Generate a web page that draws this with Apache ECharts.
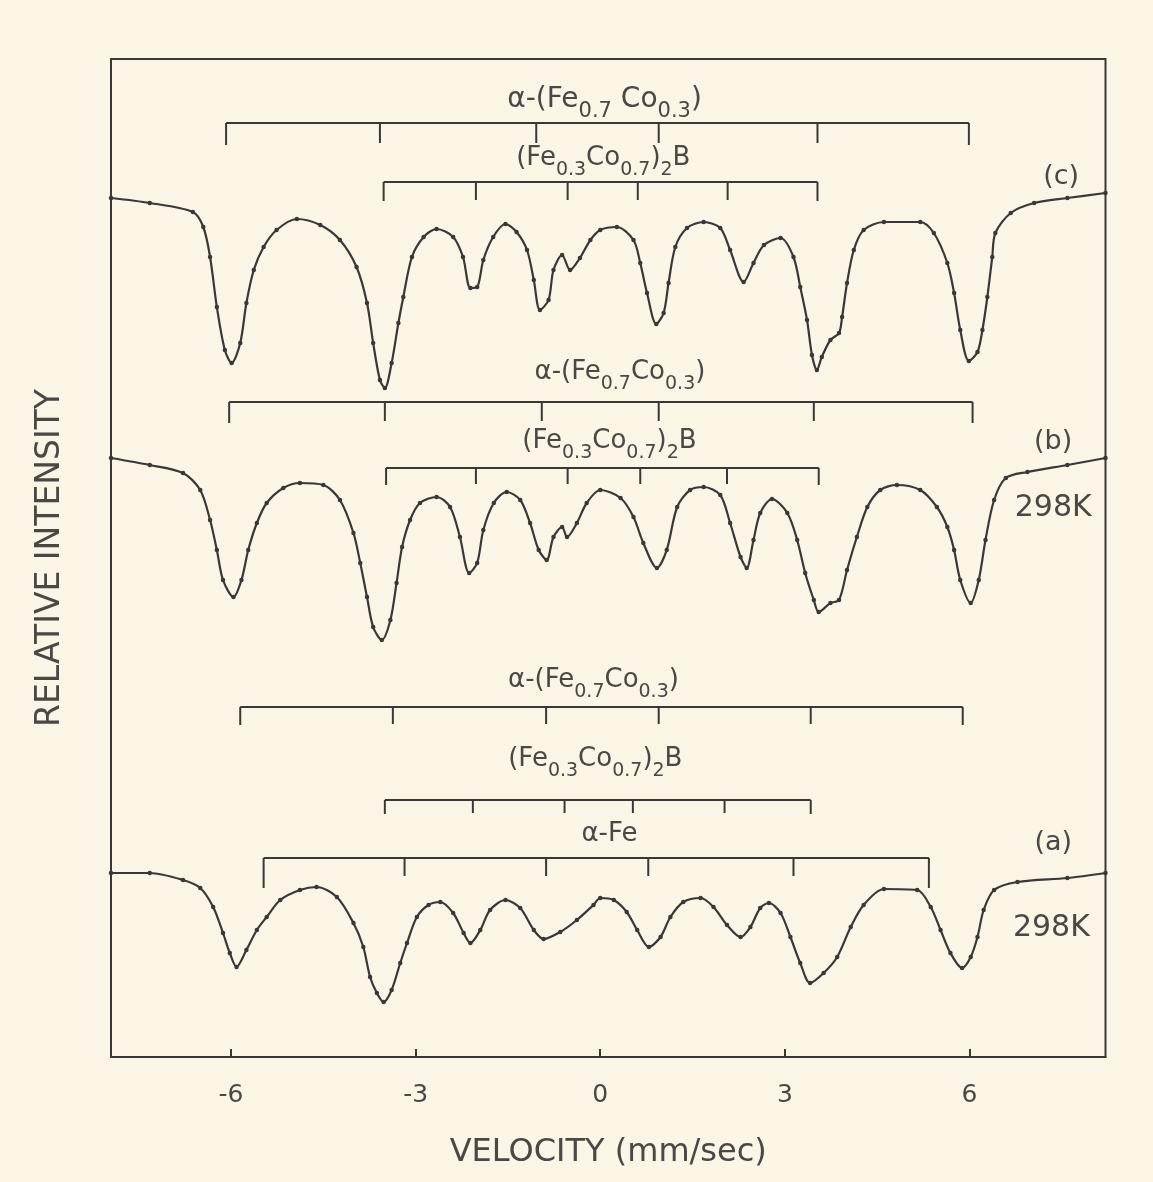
<!DOCTYPE html>
<html>
<head>
<meta charset="utf-8">
<script src="https://cdn.jsdelivr.net/npm/echarts@6/dist/echarts.min.js"></script>
<style>
html,body{margin:0;padding:0;background:#fbf5e6;}
#chart{width:1153px;height:1182px;}
</style>
</head>
<body>
<div id="chart"></div>
<script>
// ---- Data (velocity in mm/s, relative intensity in arbitrary offset units) ----
const xTickValues = [-6, -3, 0, 3, 6];

// (c)
const velocityC = [-7.95,-7.32,-6.62,-6.45,-6.34,-6.23,-6.10,-5.99,-5.85,-5.75,-5.63,-5.47,-5.26,-4.93,-4.55,-4.23,-3.96,-3.79,-3.69,-3.58,-3.50,-3.39,-3.28,-3.20,-3.06,-2.87,-2.66,-2.39,-2.23,-2.11,-2.00,-1.90,-1.74,-1.54,-1.36,-1.19,-1.08,-0.98,-0.84,-0.76,-0.62,-0.49,-0.33,-0.16,0.00,0.27,0.54,0.65,0.76,0.91,1.03,1.11,1.22,1.41,1.68,1.95,2.11,2.33,2.49,2.66,2.93,3.14,3.25,3.36,3.44,3.52,3.60,3.74,3.88,3.93,4.01,4.12,4.28,4.61,5.20,5.42,5.64,5.75,5.85,5.99,6.13,6.21,6.29,6.37,6.42,6.67,7.05,7.59,8.21];
const intensityC = [85.9,85.4,84.5,83.0,80.0,75.0,70.7,69.4,71.4,75.4,78.7,81.0,82.7,83.8,83.2,81.7,79.0,75.4,71.4,67.7,66.9,69.4,73.4,76.0,80.0,82.0,82.8,82.0,80.0,76.9,77.0,79.7,82.0,83.3,82.5,80.7,77.7,74.7,75.7,78.7,80.2,78.7,79.9,81.7,82.7,83.0,81.7,79.4,76.4,73.3,74.4,77.4,81.0,82.9,83.5,82.9,80.7,77.5,79.4,81.2,81.9,80.0,77.0,73.7,70.2,68.7,70.0,71.7,72.4,74.0,77.4,80.7,82.7,83.5,83.5,82.4,79.4,76.4,72.7,69.6,70.5,72.7,76.0,80.0,82.4,84.4,85.4,85.9,86.4];

// (b)
const velocityB = [-7.95,-7.32,-6.78,-6.50,-6.34,-6.23,-6.13,-5.96,-5.83,-5.72,-5.58,-5.42,-5.15,-4.88,-4.50,-4.23,-4.01,-3.90,-3.79,-3.69,-3.55,-3.41,-3.31,-3.22,-3.09,-2.93,-2.66,-2.44,-2.28,-2.13,-2.00,-1.90,-1.73,-1.52,-1.30,-1.14,-1.00,-0.87,-0.76,-0.62,-0.54,-0.38,-0.22,0.00,0.33,0.54,0.70,0.92,1.08,1.25,1.46,1.68,1.95,2.11,2.28,2.38,2.49,2.60,2.79,3.04,3.20,3.33,3.47,3.55,3.74,3.88,4.01,4.17,4.34,4.55,4.82,5.20,5.47,5.64,5.75,5.85,6.02,6.15,6.26,6.40,6.59,6.94,7.59,8.21];
const intensityB = [59.9,59.2,58.4,56.7,53.7,50.7,47.7,46.0,47.7,50.7,53.4,55.4,56.9,57.4,57.2,55.7,52.4,49.4,46.0,43.0,41.7,43.7,47.4,51.0,53.7,55.4,56.0,55.0,52.0,48.4,49.4,52.7,55.4,56.5,55.7,53.4,50.7,49.7,52.0,53.0,52.0,53.4,55.4,56.7,55.9,54.0,51.4,48.9,50.7,55.0,56.7,57.0,56.2,53.4,50.0,48.9,51.7,54.4,55.8,54.4,51.7,48.4,45.7,44.5,45.4,45.7,48.7,52.0,55.0,56.7,57.2,56.7,55.0,53.0,50.7,47.7,45.4,47.7,51.7,55.7,57.9,58.5,59.2,59.9];

// (a)
const velocityA = [-7.95,-7.32,-6.78,-6.50,-6.29,-6.13,-6.02,-5.91,-5.75,-5.58,-5.42,-5.20,-4.88,-4.61,-4.28,-4.01,-3.85,-3.74,-3.63,-3.52,-3.39,-3.25,-3.14,-2.98,-2.79,-2.60,-2.39,-2.22,-2.11,-1.95,-1.79,-1.54,-1.30,-1.08,-0.92,-0.65,-0.38,-0.11,0.00,0.22,0.43,0.60,0.79,0.98,1.14,1.35,1.63,1.84,2.06,2.28,2.44,2.60,2.74,2.93,3.09,3.25,3.41,3.63,3.85,4.07,4.28,4.61,5.15,5.37,5.53,5.69,5.88,6.02,6.13,6.23,6.40,6.78,7.59,8.21];
const intensityA = [18.4,18.4,17.7,16.9,15.0,12.4,10.4,9.0,10.7,12.7,14.0,15.7,16.7,17.0,16.0,13.4,11.0,8.0,6.4,5.5,6.7,9.4,11.4,14.0,15.2,15.5,14.4,12.4,11.4,12.7,14.7,15.7,14.9,12.7,11.8,12.5,13.7,15.2,15.9,15.7,14.5,12.7,11.0,12.0,14.0,15.5,15.9,15.0,13.2,12.0,13.0,14.9,15.4,14.4,12.0,9.4,7.4,8.4,10.0,13.0,15.2,16.8,16.7,15.0,12.7,10.4,8.9,10.0,12.0,14.7,16.7,17.5,17.9,18.4];

// Line positions (mm/s) of the stick diagrams
const linesC_alphaFeCo = [-6.08,-3.58,-1.04,0.95,3.53,5.99];
const linesC_boride    = [-3.52,-2.02,-0.53,0.61,2.07,3.53];
const linesB_alphaFeCo = [-6.03,-3.50,-0.95,0.95,3.47,6.05];
const linesB_boride    = [-3.48,-2.02,-0.53,0.65,2.06,3.55];
const linesA_alphaFeCo = [-5.85,-3.37,-0.88,0.95,3.42,5.89];
const linesA_boride    = [-3.50,-2.07,-0.58,0.53,2.02,3.42];
const linesA_alphaFe   = [-5.47,-3.18,-0.88,0.78,3.14,5.34];

// ---- Styling / layout ----
const INK = '#3a3836';
const TXT = '#4a4744';
const FONT = "'DejaVu Sans', 'Liberation Sans', sans-serif";

const sticks = [
  {ticks: linesC_alphaFeCo, level: 93.4, len: 20, endLen: 22},
  {ticks: linesC_boride,    level: 87.5, len: 18, endLen: 19},
  {ticks: linesB_alphaFeCo, level: 65.5, len: 19, endLen: 21},
  {ticks: linesB_boride,    level: 58.9, len: 16, endLen: 17},
  {ticks: linesA_alphaFeCo, level: 35.0, len: 17, endLen: 18},
  {ticks: linesA_boride,    level: 25.7, len: 13, endLen: 14},
  {ticks: linesA_alphaFe,   level: 19.9, len: 18, endLen: 30}
];

const labels = [
  {text: 'α-(Fe{s|0.7} Co{s|0.3})', at: [0.07, 95.7], size: 28},
  {text: '(Fe{s|0.3}Co{s|0.7}){s|2}B', at: [0.05, 89.9], size: 26},
  {text: '(c)', at: [7.49, 88.0], size: 27},
  {text: 'α-(Fe{s|0.7}Co{s|0.3})', at: [0.32, 68.5], size: 26},
  {text: '(Fe{s|0.3}Co{s|0.7}){s|2}B', at: [0.15, 61.6], size: 26},
  {text: '(b)', at: [7.36, 61.5], size: 27},
  {text: '298K', at: [7.36, 54.9], size: 30},
  {text: 'α-(Fe{s|0.7}Co{s|0.3})', at: [-0.11, 37.7], size: 26},
  {text: '(Fe{s|0.3}Co{s|0.7}){s|2}B', at: [-0.08, 29.8], size: 26},
  {text: 'α-Fe', at: [0.15, 22.3], size: 26},
  {text: '(a)', at: [7.36, 21.4], size: 27},
  {text: '298K', at: [7.33, 12.9], size: 30}
];

function pairs(xs, ys) {
  const n = Math.min(xs.length, ys.length);
  const out = [];
  for (let i = 0; i < n; i++) out.push([xs[i], ys[i]]);
  return out;
}

function spectrumSeries(name, xs, ys) {
  return {
    name: name,
    type: 'line',
    data: pairs(xs, ys),
    smooth: 0.3,
    showSymbol: true,
    showAllSymbol: true,
    symbol: 'circle',
    symbolSize: 4.5,
    lineStyle: {color: INK, width: 2.2},
    itemStyle: {color: INK},
    z: 5
  };
}

const chart = echarts.init(document.getElementById('chart'), null, {renderer: 'canvas'});

const option = {
  backgroundColor: '#fbf5e6',
  animation: false,
  grid: {
    left: 111, right: 47.5, top: 59, bottom: 125,
    show: true, borderColor: INK, borderWidth: 2, backgroundColor: 'transparent'
  },
  xAxis: {
    type: 'value',
    min: -7.95, max: 8.21,
    name: 'VELOCITY (mm/sec)',
    nameLocation: 'middle',
    nameGap: 80,
    nameTextStyle: {fontSize: 32, color: TXT, fontFamily: FONT},
    axisLine: {show: true, onZero: false, lineStyle: {color: INK, width: 2}},
    axisTick: {show: true, inside: true, length: 8, lineStyle: {color: INK, width: 2}, customValues: xTickValues},
    axisLabel: {show: true, customValues: xTickValues, fontSize: 25, color: TXT, fontFamily: FONT, margin: 26},
    splitLine: {show: false}
  },
  yAxis: {
    type: 'value',
    min: 0, max: 99.8,
    name: 'RELATIVE INTENSITY',
    nameLocation: 'middle',
    nameGap: 44,
    nameTextStyle: {fontSize: 33, color: TXT, fontFamily: FONT},
    axisLine: {show: true, onZero: false, lineStyle: {color: INK, width: 2}},
    axisTick: {show: false},
    axisLabel: {show: false},
    splitLine: {show: false}
  },
  series: [
    {
      name: 'sticks',
      type: 'custom',
      data: sticks.map(s => [s.ticks[0], s.level]),
      encode: {x: 0, y: 1},
      silent: true,
      z: 3,
      renderItem: function (params, api) {
        const s = sticks[params.dataIndex];
        const y0 = api.coord([s.ticks[0], s.level])[1];
        const xs = s.ticks.map(v => api.coord([v, s.level])[0]);
        const children = [{
          type: 'line',
          shape: {x1: xs[0], y1: y0, x2: xs[xs.length - 1], y2: y0},
          style: {stroke: INK, lineWidth: 2}
        }];
        xs.forEach((x, i) => {
          const len = (i === 0 || i === xs.length - 1) ? s.endLen : s.len;
          children.push({
            type: 'line',
            shape: {x1: x, y1: y0, x2: x, y2: y0 + len},
            style: {stroke: INK, lineWidth: 2}
          });
        });
        return {type: 'group', children: children};
      }
    },
    {
      name: 'labels',
      type: 'custom',
      data: labels.map(l => l.at),
      encode: {x: 0, y: 1},
      silent: true,
      z: 4,
      renderItem: function (params, api) {
        const l = labels[params.dataIndex];
        const p = api.coord(l.at);
        return {
          type: 'text',
          x: p[0], y: p[1],
          style: {
            text: l.text,
            fill: TXT,
            fontSize: l.size,
            fontFamily: FONT,
            align: 'center',
            verticalAlign: 'middle',
            lineHeight: 44,
            rich: {
              s: {fontSize: Math.round(l.size * 0.74), fontFamily: FONT, fill: TXT, lineHeight: 18, verticalAlign: 'bottom'}
            }
          }
        };
      }
    },
    spectrumSeries('(c)', velocityC, intensityC),
    spectrumSeries('(b)', velocityB, intensityB),
    spectrumSeries('(a)', velocityA, intensityA)
  ]
};

chart.setOption(option);
</script>
</body>
</html>
